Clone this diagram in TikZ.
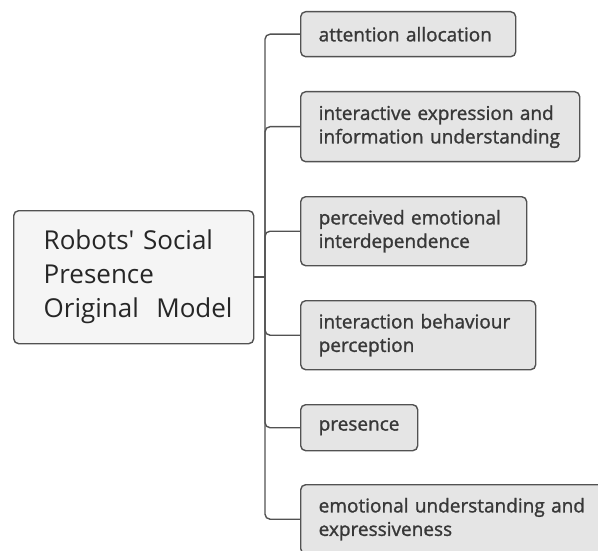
\documentclass[tikz,border=0pt]{standalone}
\usepackage{fontspec}
\setmainfont{Open Sans}[Ligatures=TeXOff]
\newfontfamily\leaffont{Open Sans}[FakeBold=1.3]
\begin{document}
\begin{tikzpicture}[x=1pt,y=-1pt,
  line/.style={draw=black!68,line width=1.4pt,rounded corners=5pt},
  rootbox/.style={draw=black!68,line width=1.4pt,fill=black!4,rounded corners=5pt,
    anchor=north west,align=left,inner xsep=30pt,inner ysep=0pt,text=black!85,
    font=\fontsize{26}{34}\selectfont},
  leafbox/.style={draw=black!68,line width=1.4pt,fill=black!10,rounded corners=5pt,
    anchor=north west,align=left,inner xsep=18pt,inner ysep=0pt,text=black!78,
    font=\leaffont\fontsize{19}{23.5}\selectfont}]
\useasboundingbox (0,0) rectangle (598,551);
\clip (0,0) rectangle (598,551);
\node[rootbox,minimum width=240pt,minimum height=133pt,text width=180pt] (root) at (13,210)
  {Robots' Social\\Presence\\Original~~Model};
\node[leafbox,minimum width=215pt,minimum height=45pt,text width=179pt] (l1) at (300,11)
  {attention allocation};
\node[leafbox,minimum width=279pt,minimum height=70pt,text width=243pt] (l2) at (300,91)
  {interactive expression and\\information understanding};
\node[leafbox,minimum width=226pt,minimum height=69pt,text width=190pt] (l3) at (300,196)
  {perceived emotional\\interdependence};
\node[leafbox,minimum width=235pt,minimum height=69pt,text width=199pt] (l4) at (300,300)
  {interaction behaviour\\perception};
\node[leafbox,minimum width=117pt,minimum height=46pt,text width=81pt] (l5) at (300,404)
  {presence};
\node[leafbox,minimum width=320pt,minimum height=69pt,text width=284pt] (l6) at (300,484)
  {emotional understanding and\\expressiveness};
\coordinate (hub) at (265,277);
\draw[line] (root.east |- hub) -- (hub);
\foreach \n in {l1,l2,l3,l4,l5,l6}
  \draw[line] (hub) |- (\n.west);
\end{tikzpicture}
\end{document}
